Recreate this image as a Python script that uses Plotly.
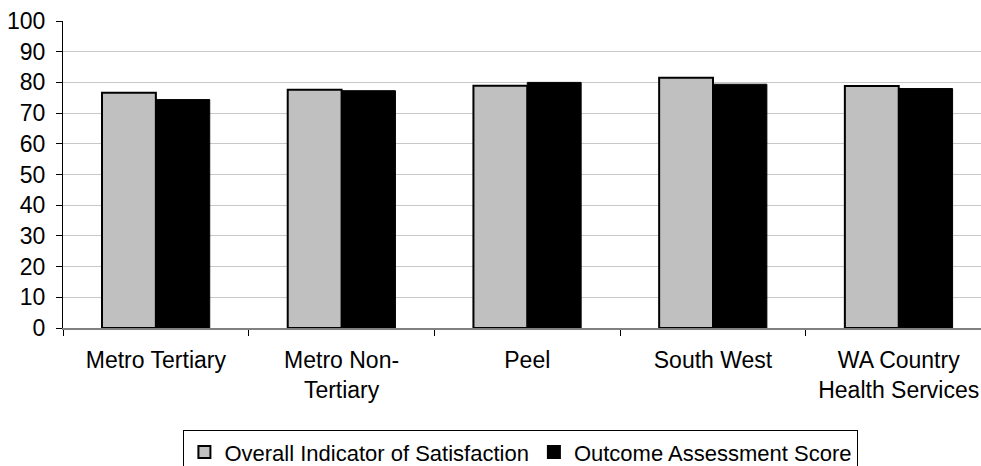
import plotly.graph_objects as go

regions = ["Metro Tertiary", "Metro Non-<br>Tertiary", "Peel", "South West", "WA Country<br>Health Services"]
overall_satisfaction = [76.6, 77.6, 78.9, 81.5, 78.8]
outcome_assessment = [74.4, 77.3, 80.0, 79.4, 78.0]
y_ticks = list(range(0, 101, 10))

FONT = "Arial, Liberation Sans, sans-serif"

fig = go.Figure()
fig.add_trace(go.Bar(
    x=regions, y=overall_satisfaction, name="Overall Indicator of Satisfaction",
    marker=dict(color="#c0c0c0", line=dict(color="#000000", width=2)),
))
fig.add_trace(go.Bar(
    x=regions, y=outcome_assessment, name="Outcome Assessment Score",
    marker=dict(color="#000000", line=dict(color="#000000", width=1)),
))

fig.update_layout(
    width=981, height=466,
    margin=dict(l=63, r=0, t=21, b=138),
    paper_bgcolor="white", plot_bgcolor="white",
    font=dict(family=FONT, size=23, color="#000000"),
    barmode="group", bargap=0.42, bargroupgap=0,
    showlegend=True,
    legend=dict(
        orientation="h", xref="container", yref="container",
        x=0.531, xanchor="center", y=0.077, yanchor="top",
        bgcolor="white", bordercolor="#000000", borderwidth=1,
        font=dict(family=FONT, size=22, color="#000000"),
        itemsizing="constant", tracegroupgap=0,
    ),
)
fig.update_xaxes(
    range=[-0.5, 4.443], tickson="boundaries", ticks="outside", ticklen=6,
    tickcolor="#000000", showline=True, linecolor="#808080", linewidth=2,
    showgrid=False, tickfont=dict(size=23), ticklabelstandoff=10,
)
fig.update_yaxes(
    range=[0, 100], tickvals=y_ticks, ticks="outside", ticklen=6,
    tickcolor="#000000", showline=True, linecolor="#000000", linewidth=1,
    showgrid=True, gridcolor="#c8c8c8", gridwidth=1, zeroline=False,
    tickfont=dict(size=23), ticklabelstandoff=6,
)

fig.write_html("out.html")
